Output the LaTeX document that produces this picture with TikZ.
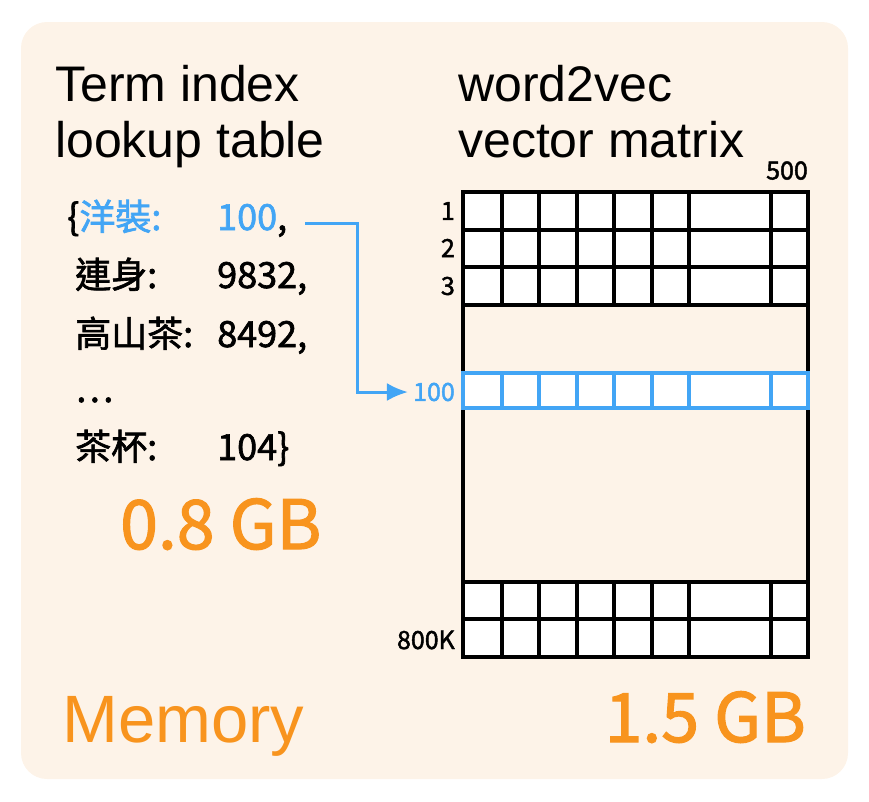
\documentclass[tikz,border=0pt]{standalone}
\usepackage{fontspec}
\setmainfont{Noto Sans CJK TC}[FakeBold=1.8]
\newfontfamily\headfont{Liberation Sans}
\usetikzlibrary{positioning,arrows.meta}
\definecolor{peach}{HTML}{FDF3E8}
\definecolor{skyblue}{HTML}{42A5F5}
\definecolor{memorange}{HTML}{F8941E}

\begin{document}
\begin{tikzpicture}[
x=1pt, y=-1pt,
title/.style={
  font=\headfont\fontsize{50}{56}\selectfont,
  align=left,
  inner sep=0pt,
  anchor=base west
  },
entry/.style={
  font=\fontsize{36}{40}\selectfont,
  inner sep=0pt,
  anchor=base west
  },
memsize/.style={
  font=\fontsize{68}{72}\selectfont,
  text=memorange,
  inner sep=0pt,
  anchor=base west
  },
rowlabel/.style={
  font=\fontsize{25}{28}\selectfont,
  inner sep=0pt,
  anchor=east
  },
cell/.style={draw=black, fill=white, line width=3.5pt},
rail/.style={draw=black, line width=3.5pt},
hicell/.style={draw=skyblue, fill=white, line width=3.5pt},
pointer/.style={
  draw=skyblue,
  line width=3pt,
  -{Latex[length=21pt,width=18pt]},
  shorten >=5pt
  }
]
\useasboundingbox (0,0) rectangle (869,801);
\fill[peach, rounded corners=26pt] (21,22) rectangle (848,779);

% headings
\node[title] (lookup) at (55,157) {Term index\\lookup table};
\node[title] (w2v) at (458,157) {word2vec\\vector matrix};

% lookup table entries
\node[entry] (k1) at (67,230) {\{\textcolor{skyblue}{洋裝:}};
\node[entry] (k2) at (75,288) {連身:};
\node[entry] (k3) at (75,347) {高山茶:};
\node[entry] (k4) at (75,402) {\ldots};
\node[entry] (k5) at (75,460) {茶杯:};
\node[entry] (v1) at (217,230) {\textcolor{skyblue}{100},};
\node[entry] (v2) at (217,288) {9832,};
\node[entry] (v3) at (217,347) {8492,};
\node[entry] (v5) at (217,460) {104\}};

% vector matrix
\draw[rail] (463,305) -- (463,582);
\draw[rail] (808,305) -- (808,582);
\foreach \ya/\yb in {192/230,230/267,267/305,582/619,619/657}
{\foreach \xa/\xb in {463/502,502/539,539/577,577/614,614/652,652/689,689/771,771/808}
  \draw[cell] (\xa,\ya) rectangle (\xb,\yb);
}
\foreach \xa/\xb in {463/502,502/539,539/577,577/614,614/652,652/689,689/771,771/808}
  \draw[hicell] (\xa,373) rectangle (\xb,408);

\foreach \yc [count=\ri] in {211,248,286}
  \node[rowlabel] (r\ri) at (455,\yc) {\ri};
\node[rowlabel, text=skyblue] (r100) at (455,392) {100};
\node[rowlabel] (r800k) at (455,640) {800K};
\node[rowlabel, anchor=south east] (c500) at (808,180) {500};

\draw[pointer]
  ([xshift=18pt,yshift=7pt]v1.base east) -- ++(52,0) |- (r100.west);

% sizes
\node[memsize] (gb08) at (120,549) {0.8 GB};
\node[memsize, font=\headfont\fontsize{67}{72}\selectfont] (mem) at (62,742) {Memory};
\node[memsize, anchor=base east] (gb15) at (806,742) {1.5 GB};

\end{tikzpicture}
\end{document}
